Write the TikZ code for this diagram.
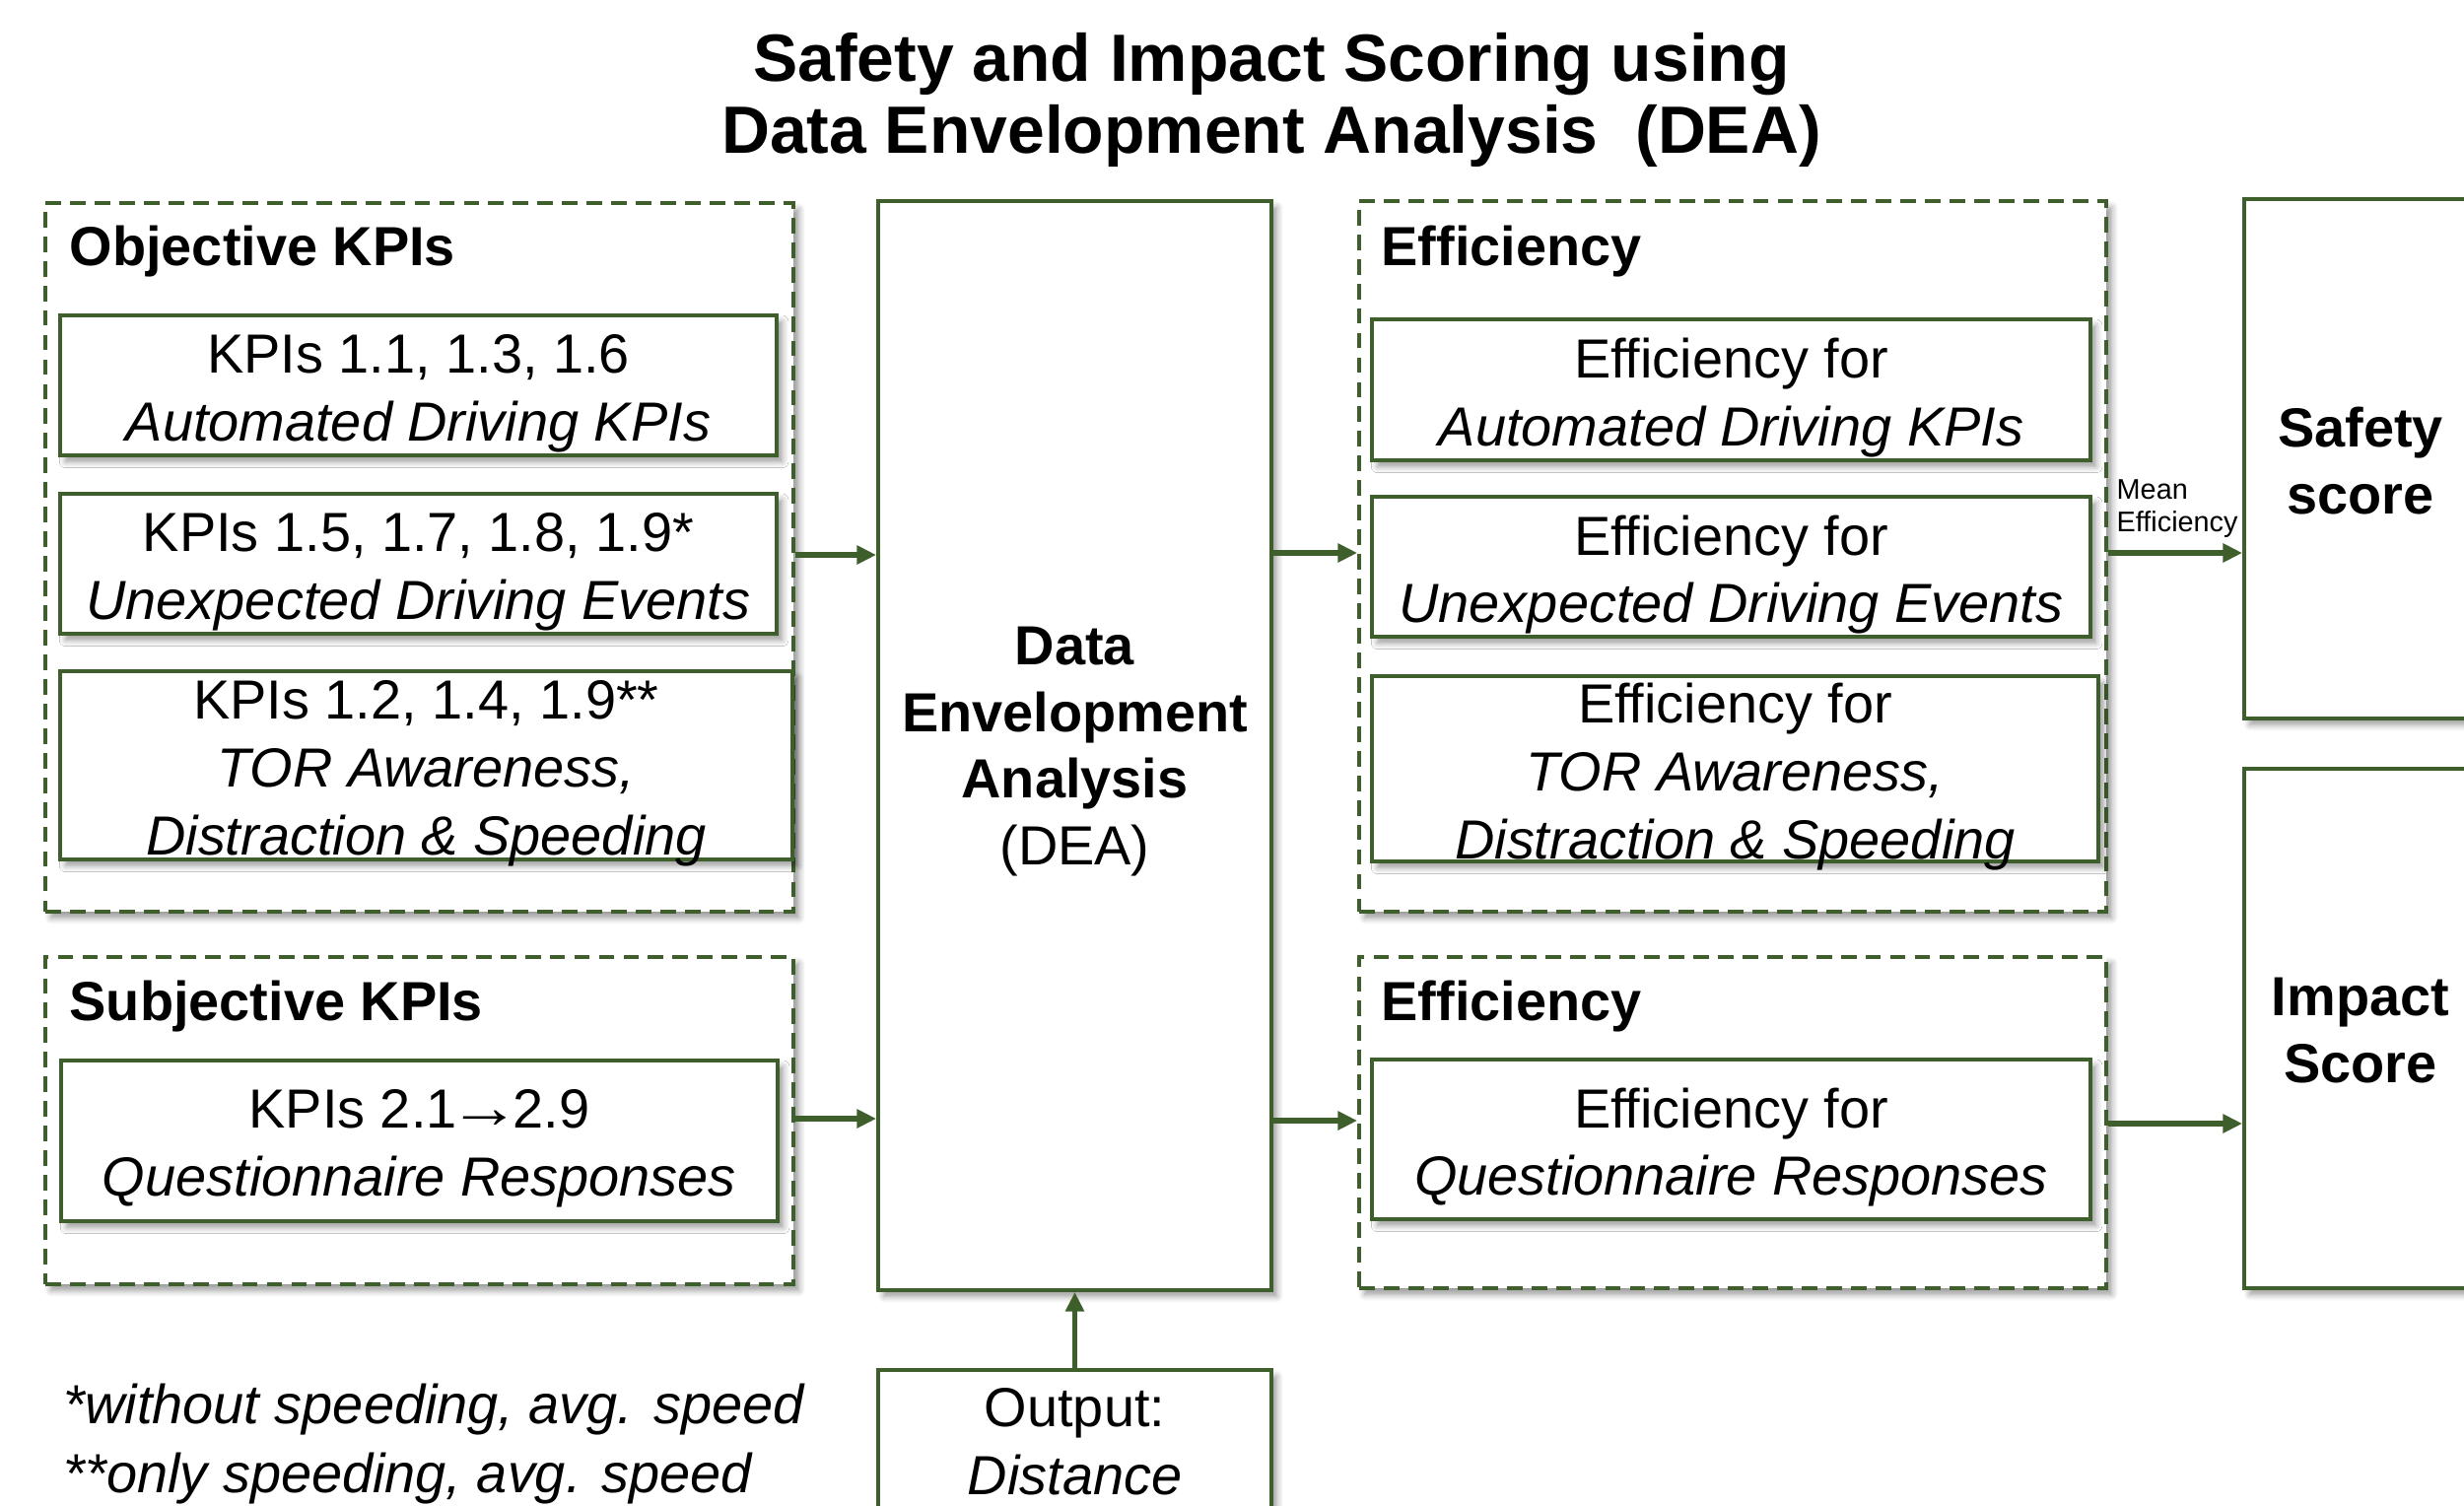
\documentclass[tikz,border=0pt]{standalone}
\usepackage{fontspec}
\usepackage{graphicx}
\setmainfont{Liberation Sans}
\usetikzlibrary{arrows.meta,shadows.blur}
\definecolor{dg}{HTML}{3E5F2B}
\tikzset{
  shd/.style={blur shadow={shadow blur steps=6, shadow xshift=1.6pt, shadow yshift=-1.8pt, shadow opacity=40, shadow blur radius=1.8pt}},
  kbox/.style={draw=dg, line width=1.1pt, fill=white, shd, inner sep=0pt},
  txt/.style={align=center, inner sep=0pt, font=\fontsize{15.9}{19.6}\selectfont, yshift=-0.08cm},
  otxt/.style={align=center, inner sep=0pt, font=\fontsize{15.9}{19.6}\selectfont},
  dtxt/.style={align=center, inner sep=0pt, font=\bfseries\fontsize{15.9}{19.3}\selectfont, yshift=-0.06cm},
  stxt/.style={align=center, inner sep=0pt, font=\bfseries\fontsize{15.9}{19.3}\selectfont, yshift=-0.02cm},
  grp/.style={draw=dg, line width=1.1pt, dash pattern=on 4.5pt off 2.6pt, fill=white, shd, inner sep=0pt},
  head/.style={anchor=west, inner sep=0pt, font=\bfseries\fontsize{15.9}{19}\selectfont},
  arr/.style={draw=dg, line width=1.5pt, -{Triangle[length=5.6pt,width=5.2pt]}},
}
% name, centre, width, height, text style, text
\newcommand{\bx}[6]{%
  \node[kbox, minimum width=#3cm, minimum height=#4cm] (#1) at (#2) {};
  \node[#5] (#1t) at (#1.center) {#6};}
\begin{document}
\begin{tikzpicture}[x=1cm,y=-1cm]
\useasboundingbox (0,0) rectangle (25,15.27);

% title
\node[align=center, inner sep=0pt, font=\bfseries\fontsize{19.3}{20.8}\selectfont] (title) at (12.90,1.015)
  {Safety and Impact Scoring using\\Data Envelopment Analysis\ \ (DEA)};

% groups
\node[grp, minimum width=7.59cm, minimum height=7.19cm] (objg) at (4.255,5.655) {};
\node[grp, minimum width=7.59cm, minimum height=3.32cm] (subg) at (4.255,11.37) {};
\node[grp, minimum width=7.58cm, minimum height=7.21cm] (efft) at (17.58,5.645) {};
\node[grp, minimum width=7.58cm, minimum height=3.36cm] (effb) at (17.58,11.39) {};

% headings
\node[head] (hobj) at (0.70,2.55) {Objective KPIs};
\node[head] (hsub) at (0.70,10.21) {Subjective KPIs};
\node[head] (heff1) at (14.01,2.55) {Efficiency};
\node[head] (heff2) at (14.01,10.21) {Efficiency};

% objective boxes
\bx{o1}{4.245,3.91}{7.27}{1.42}{txt}{KPIs 1.1, 1.3, 1.6\\\textit{Automated Driving KPIs}}
\bx{o2}{4.245,5.72}{7.27}{1.42}{txt}{KPIs 1.5, 1.7, 1.8, 1.9*\\\textit{Unexpected Driving Events}}
\bx{o3}{4.325,7.765}{7.43}{1.91}{txt}{KPIs 1.2, 1.4, 1.9**\\\textit{TOR Awareness,}\\\textit{Distraction \& Speeding}}
\bx{s1}{4.255,11.575}{7.27}{1.63}{txt}{KPIs 2.1\kern-2.2pt\scalebox{1.3}[1.1]{→}\kern-2.2pt2.9\\\textit{Questionnaire Responses}}

% DEA and output
\bx{dea}{10.905,7.565}{3.99}{11.05}{dtxt}{Data\\Envelopment\\Analysis\\\mdseries(DEA)}
\bx{out}{10.905,14.625}{3.99}{1.45}{otxt}{Output:\\\textit{Distance}}

% efficiency boxes
\bx{e1}{17.565,3.955}{7.29}{1.43}{txt}{Efficiency for\\\textit{Automated Driving KPIs}}
\bx{e2}{17.565,5.75}{7.29}{1.42}{txt}{Efficiency for\\\textit{Unexpected Driving Events}}
\bx{e3}{17.605,7.80}{7.37}{1.88}{txt}{Efficiency for\\\textit{TOR Awareness,}\\\textit{Distraction \& Speeding}}
\bx{eq}{17.565,11.56}{7.29}{1.62}{txt}{Efficiency for\\\textit{Questionnaire Responses}}

% scores
\bx{safe}{23.95,4.655}{2.36}{5.27}{stxt}{Safety\\score}
\bx{imp}{23.95,10.435}{2.36}{5.27}{stxt}{Impact\\Score}

% footnotes
\node[anchor=west, align=left, inner sep=0pt, font=\itshape\fontsize{15.9}{19.8}\selectfont] (fn) at (0.64,14.65)
  {*without speeding, avg. speed\\**only speeding, avg. speed};

% arrow levels
\coordinate (ya) at (0,5.63);
\coordinate (yb) at (0,5.61);
\coordinate (yd) at (0,11.35);
\coordinate (ye) at (0,11.37);
\coordinate (yf) at (0,11.40);

\draw[arr] (objg.east |- ya) -- (dea.west |- ya);
\draw[arr] (subg.east |- yd) -- (dea.west |- yd);
\draw[arr] (dea.east |- yb) -- (efft.west |- yb);
\draw[arr] (dea.east |- ye) -- (effb.west |- ye);
\draw[arr] (efft.east |- yb) -- (safe.west |- yb);
\draw[arr] (effb.east |- yf) -- (imp.west |- yf);
\draw[arr] (out.north) -- (dea.south);

\node[anchor=south west, align=left, inner sep=0pt, font=\fontsize{8.2}{9.4}\selectfont] (mean) at (21.47,5.46)
  {Mean\\Efficiency};
\end{tikzpicture}
\end{document}
